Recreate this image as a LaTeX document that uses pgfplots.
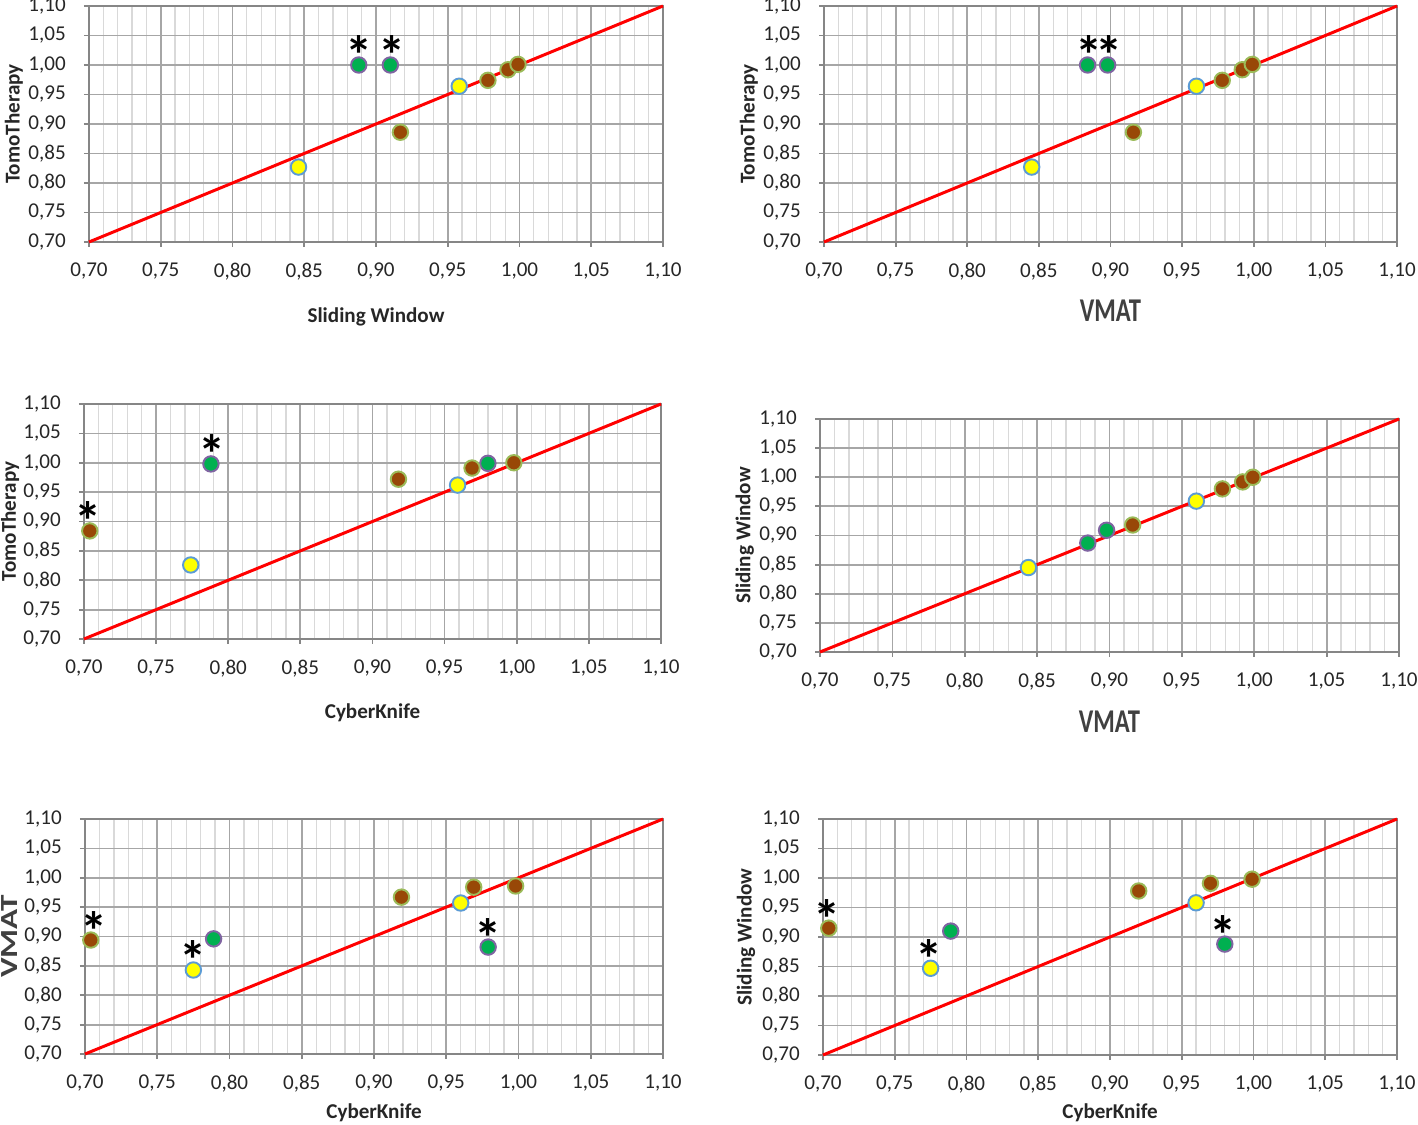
\documentclass[border=0pt]{standalone}
\usepackage{fontspec}
\setmainfont{Carlito}
\usepackage{pgfplots}
\pgfplotsset{compat=1.18}

\definecolor{ylw}{HTML}{FFFF00}
\definecolor{ylwedge}{HTML}{5B9BD5}
\definecolor{grn}{HTML}{00B050}
\definecolor{grnedge}{HTML}{8064A2}
\definecolor{brn}{HTML}{984807}
\definecolor{brnedge}{HTML}{9BBB59}
\definecolor{gridmajor}{HTML}{A6A6A6}
\definecolor{gridminor}{HTML}{D9D9D9}
\definecolor{axisgray}{HTML}{868686}
\definecolor{labelgray}{HTML}{262626}

\tikzset{bigl/.style={font=\fontsize{14}{16}\selectfont\bfseries, text=black!75}}

\pgfplotsset{
  panel/.style={
    scale only axis, anchor=south west,
    xmin=0.7, xmax=1.1, ymin=0.7, ymax=1.1,
    xtick={0.70,0.75,0.80,0.85,0.90,0.95,1.00,1.05,1.10},
    ytick={0.70,0.75,0.80,0.85,0.90,0.95,1.00,1.05,1.10},
    minor x tick num=4,
    xmajorgrids, ymajorgrids, xminorgrids,
    major grid style={color=gridmajor, line width=1pt},
    minor grid style={color=gridminor, line width=0.7pt},
    axis line style={color=axisgray, line width=1pt},
    xtick pos=left, ytick pos=left,
    tick align=outside, major tick length=0.1cm, minor tick length=0pt,
    tick style={color=axisgray, line width=1pt},
    tick label style={font=\fontsize{12}{14}\selectfont, text=labelgray},
    xticklabel style={yshift=-0.2cm},
    yticklabel style={xshift=-0.24cm},
    /pgf/number format/use comma,
    /pgf/number format/fixed,
    /pgf/number format/fixed zerofill,
    /pgf/number format/precision=2,
    /pgf/number format/assume math mode=true,
    label style={font=\fontsize{12}{14}\selectfont\bfseries, text=labelgray},
    xlabel style={anchor=center},
    ylabel style={anchor=center},
    clip=false,
  },
  ptY/.style={only marks, mark=*, mark size=4.4pt, line width=1.1pt,
    mark options={fill=ylw, draw=ylwedge}},
  ptG/.style={only marks, mark=*, mark size=4.4pt, line width=1.1pt,
    mark options={fill=grn, draw=grnedge}},
  ptB/.style={only marks, mark=*, mark size=4.4pt, line width=1.1pt,
    mark options={fill=brn, draw=brnedge}},
  diag/.style={color=red, line width=1.7pt},
  stars/.style={only marks, mark=none,
    nodes near coords={*},
    every node near coord/.style={anchor=base, yshift=-0.2cm,
      font=\fontsize{31}{31}\selectfont\bfseries, text=black, inner sep=0pt}},
}

\begin{document}
\begin{tikzpicture}
\useasboundingbox (0,0) rectangle (28.36,-22.5);

% Sliding Window vs TomoTherapy
\begin{axis}[panel, at={(1.78cm,-4.84cm)}, width=11.48cm, height=4.72cm,
  xlabel={Sliding Window}, ylabel={TomoTherapy},
  xlabel style={at={(axis description cs:0.5,-0.318)}},
  ylabel style={at={(axis description cs:-0.131,0.5)}}]
\addplot[diag] coordinates {(0.7,0.7) (1.1,1.1)};
\addplot[ptY] coordinates {(0.846,0.827) (0.958,0.964)};
\addplot[ptG] coordinates {(0.888,1.000) (0.910,1.000)};
\addplot[ptB] coordinates {(0.917,0.886) (0.978,0.974) (0.992,0.992) (0.999,1.001)};
\addplot[stars] coordinates {(0.888,1.000) (0.911,1.000)};
\end{axis}

% VMAT vs TomoTherapy
\begin{axis}[panel, at={(16.48cm,-4.84cm)}, width=11.46cm, height=4.72cm,
  xlabel={VMAT}, ylabel={TomoTherapy},
  xlabel style={at={(axis description cs:0.5,-0.292)}, bigl, yscale=1.35},
  ylabel style={at={(axis description cs:-0.131,0.5)}}]
\addplot[diag] coordinates {(0.7,0.7) (1.1,1.1)};
\addplot[ptY] coordinates {(0.845,0.827) (0.960,0.964)};
\addplot[ptG] coordinates {(0.884,1.000) (0.898,1.000)};
\addplot[ptB] coordinates {(0.916,0.886) (0.978,0.974) (0.992,0.992) (0.999,1.001)};
\addplot[stars] coordinates {(0.885,1.000) (0.899,1.000)};
\end{axis}

% CyberKnife vs TomoTherapy
\begin{axis}[panel, at={(1.68cm,-12.78cm)}, width=11.54cm, height=4.70cm,
  xlabel={CyberKnife}, ylabel={TomoTherapy},
  xlabel style={at={(axis description cs:0.5,-0.315)}},
  ylabel style={at={(axis description cs:-0.128,0.5)}}]
\addplot[diag] coordinates {(0.7,0.7) (1.1,1.1)};
\addplot[ptY] coordinates {(0.774,0.826) (0.959,0.962)};
\addplot[ptG] coordinates {(0.788,0.998) (0.980,0.999)};
\addplot[ptB] coordinates {(0.704,0.884) (0.918,0.972) (0.969,0.991) (0.998,1.000)};
\addplot[stars] coordinates {(0.703,0.884) (0.789,0.998)};
\end{axis}

% VMAT vs Sliding Window
\begin{axis}[panel, at={(16.40cm,-13.04cm)}, width=11.58cm, height=4.66cm,
  xlabel={VMAT}, ylabel={Sliding Window},
  xlabel style={at={(axis description cs:0.5,-0.300)}, bigl, yscale=1.35},
  ylabel style={at={(axis description cs:-0.130,0.5)}}]
\addplot[diag] coordinates {(0.7,0.7) (1.1,1.1)};
\addplot[ptY] coordinates {(0.844,0.845) (0.960,0.959)};
\addplot[ptG] coordinates {(0.885,0.887) (0.898,0.909)};
\addplot[ptB] coordinates {(0.916,0.918) (0.978,0.980) (0.992,0.992) (0.999,1.000)};
\end{axis}

% CyberKnife vs VMAT
\begin{axis}[panel, at={(1.70cm,-21.08cm)}, width=11.56cm, height=4.70cm,
  xlabel={CyberKnife}, ylabel={VMAT},
  xlabel style={at={(axis description cs:0.5,-0.251)}},
  ylabel style={at={(axis description cs:-0.130,0.5)}, bigl, xscale=1.35}]
\addplot[diag] coordinates {(0.7,0.7) (1.1,1.1)};
\addplot[ptY] coordinates {(0.775,0.843) (0.960,0.957)};
\addplot[ptG] coordinates {(0.789,0.896) (0.979,0.882)};
\addplot[ptB] coordinates {(0.704,0.894) (0.919,0.967) (0.969,0.984) (0.998,0.986)};
\addplot[stars] coordinates {(0.706,0.894) (0.775,0.843) (0.979,0.882)};
\end{axis}

% CyberKnife vs Sliding Window
\begin{axis}[panel, at={(16.46cm,-21.10cm)}, width=11.48cm, height=4.72cm,
  xlabel={CyberKnife}, ylabel={Sliding Window},
  xlabel style={at={(axis description cs:0.5,-0.246)}},
  ylabel style={at={(axis description cs:-0.134,0.5)}}]
\addplot[diag] coordinates {(0.7,0.7) (1.1,1.1)};
\addplot[ptY] coordinates {(0.775,0.847) (0.960,0.958)};
\addplot[ptG] coordinates {(0.789,0.910) (0.980,0.888)};
\addplot[ptB] coordinates {(0.704,0.915) (0.920,0.978) (0.970,0.991) (0.999,0.998)};
\addplot[stars] coordinates {(0.703,0.915) (0.774,0.847) (0.979,0.888)};
\end{axis}
\end{tikzpicture}
\end{document}
